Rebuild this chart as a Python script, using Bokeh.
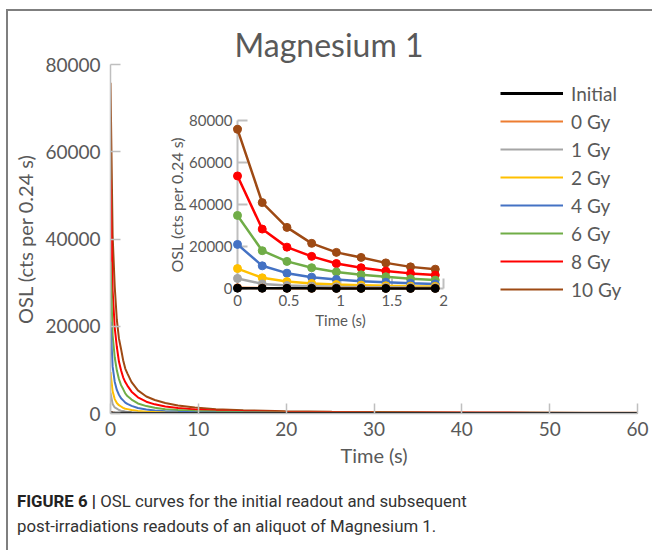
import math
from bokeh.plotting import figure
from bokeh.layouts import column
from bokeh.models import (Range1d, Legend, LegendItem, FixedTicker, BasicTickFormatter,
                          Title, Div)
from bokeh.core.properties import value
from bokeh.embed import file_html
from bokeh.resources import INLINE

# ---------------- data ----------------
title_text = "Magnesium 1"
series_names = ["Initial", "0 Gy", "1 Gy", "2 Gy", "4 Gy", "6 Gy", "8 Gy", "10 Gy"]

time_s = [0, 0.24, 0.48, 0.72, 0.96, 1.2, 1.44, 1.68, 1.92,
          2.4, 3.12, 4.08, 5.04, 6.24, 7.68, 9.6, 12.0, 15.12, 19.92,
          25.2, 30.0, 36.0, 42.0, 48.0, 54.0, 60.0]

osl_initial = [150, 90, 70, 60, 50, 45, 40, 38, 35, 30, 26, 22, 20, 18, 16, 14,
               13, 12, 11, 10, 10, 9, 9, 9, 9, 9]
osl_0gy = [350, 200, 150, 120, 100, 90, 80, 70, 65, 55, 45, 38, 32, 28, 24, 20,
           17, 15, 13, 12, 11, 10, 10, 9, 9, 9]
osl_1gy = [4800, 2200, 1400, 1100, 800, 650, 550, 450, 400, 320, 230, 170, 130,
           100, 80, 60, 48, 38, 30, 25, 22, 20, 18, 16, 15, 14]
osl_2gy = [9500, 5100, 3300, 2400, 1900, 1600, 1300, 1100, 1000, 780, 560, 410,
           320, 250, 190, 140, 110, 85, 65, 55, 45, 40, 35, 30, 28, 25]
osl_4gy = [21000, 10800, 7300, 5400, 4300, 3500, 3000, 2500, 2200, 1750, 1250,
           900, 700, 540, 420, 310, 240, 180, 140, 110, 95, 80, 70, 60, 55, 50]
osl_6gy = [34800, 18000, 12900, 9900, 7900, 6500, 5600, 4600, 4000, 3200, 2300,
           1700, 1300, 1000, 780, 570, 430, 320, 240, 190, 160, 130, 110, 100, 90, 80]
osl_8gy = [53600, 28300, 19700, 15300, 11900, 9900, 8300, 7200, 6400, 5000, 3700,
           2700, 2100, 1600, 1250, 900, 680, 500, 360, 280, 230, 190, 160, 140, 130, 120]
osl_10gy = [75800, 40900, 29100, 21500, 17200, 14800, 12200, 10300, 9200, 7200,
            5300, 3900, 3100, 2400, 1850, 1350, 1000, 750, 520, 400, 330, 280, 240,
            210, 190, 170]
series_values = [osl_initial, osl_0gy, osl_1gy, osl_2gy, osl_4gy, osl_6gy, osl_8gy, osl_10gy]

inset_points = 9          # first 9 readouts (0 - 1.92 s) shown in the inset
x_ticks = [0, 10, 20, 30, 40, 50, 60]
y_ticks = [0, 20000, 40000, 60000, 80000]
inset_x_ticks = [0, 0.5, 1, 1.5, 2]
inset_x_tick_labels = ["0", "0.5", "1", "1.5", "2"]
inset_y_ticks = [0, 20000, 40000, 60000, 80000]
inset_y_tick_labels = ["0", "20000", "40000", "60000", "80000"]
x_label = "Time (s)"
y_label = "OSL (cts per 0.24 s)"
caption_bold = "FIGURE 6 |"
caption_line1 = "OSL curves for the initial readout and subsequent"
caption_line2 = "post-irradiations readouts of an aliquot of Magnesium 1."

# ---------------- style / geometry (page pixels) ----------------
colors = ["#000000", "#ED7D31", "#A5A5A5", "#FFC000", "#4472C4", "#70AD47",
          "#FF0000", "#9E4A14"]
TXT = "#595959"
AX = "#BFBFBF"
BORDER = "#7F7F7F"
FONT = "Lato"
CAP_FONT = "Roboto"

PAGE_W, PAGE_H = 652, 550
X0, Y0 = 8, 11           # where the content starts (inside the border lines)
MAIN_BOTTOM = 480        # page y where caption area starts
FL, FR, FT, FB = 110, 637, 64, 413   # main frame edges, page pixels
IX0, IX1, IY0, IY1 = 237, 443, 288, 120   # inset 0..2 s / 0..80000, page pixels

# ---------------- main chart ----------------
p = figure(width=PAGE_W - X0, height=MAIN_BOTTOM - Y0, output_backend="svg",
           toolbar_location=None, x_range=Range1d(0, 60), y_range=Range1d(0, 80000),
           min_border_left=FL - X0, min_border_right=PAGE_W - FR,
           min_border_top=FT - Y0, min_border_bottom=MAIN_BOTTOM - FB,
           background_fill_color="white", border_fill_color="white")
p.outline_line_color = None
p.grid.visible = False

p.title = Title(text=title_text, align="left", offset=234 - FL, standoff=2,
                text_font=FONT, text_font_size="32px", text_color=TXT,
                text_font_style="normal")

for ax in (p.xaxis[0], p.yaxis[0]):
    ax.axis_line_color = AX
    ax.axis_line_width = 1.5
    ax.major_tick_line_color = AX
    ax.major_tick_line_width = 1.5
    ax.major_tick_in = 10
    ax.major_tick_out = 0
    ax.minor_tick_line_color = None
    ax.major_label_text_font = FONT
    ax.major_label_text_font_size = "19px"
    ax.major_label_text_color = TXT
    ax.axis_label_text_font = FONT
    ax.axis_label_text_font_size = "20px"
    ax.axis_label_text_color = TXT
    ax.axis_label_text_font_style = "normal"
p.xaxis.ticker = FixedTicker(ticks=x_ticks)
p.yaxis.ticker = FixedTicker(ticks=y_ticks)
p.yaxis.formatter = BasicTickFormatter(use_scientific=False)
p.xaxis.major_label_standoff = 8
p.yaxis.major_label_standoff = 10
p.xaxis.axis_label = x_label
p.yaxis.axis_label = y_label
p.xaxis.axis_label_standoff = 4
p.yaxis.axis_label_standoff = 5

main_renderers = {}
for name, vals, col in reversed(list(zip(series_names, series_values, colors))):
    lw = 3 if name == "Initial" else 2
    main_renderers[name] = p.line(time_s, vals, line_color=col, line_width=lw)

# ---------------- inset (extra ranges inside the main frame) ----------------
ixs = -(IX0 - FL) / (IX1 - IX0) * 2
ixe = 2 + (FR - IX1) / (IX1 - IX0) * 2
iys = -(FB - IY0) / (IY0 - IY1) * 80000
iye = 80000 + (IY1 - FT) / (IY0 - IY1) * 80000
p.extra_x_ranges = {"ix": Range1d(ixs, ixe)}
p.extra_y_ranges = {"iy": Range1d(iys, iye)}
kw = dict(x_range_name="ix", y_range_name="iy")

p.segment(x0=[0, 0], y0=[0, 0], x1=[0, 2], y1=[80000, 0], line_color=AX,
          line_width=2, **kw)
p.ray(x=[0] * len(inset_y_ticks), y=inset_y_ticks, length=10, angle=0,
      length_units="screen", line_color=AX, line_width=2, **kw)
p.ray(x=inset_x_ticks, y=[0] * len(inset_x_ticks), length=10, angle=math.pi / 2,
      length_units="screen", line_color=AX, line_width=2, **kw)

for name, vals, col in reversed(list(zip(series_names, series_values, colors))):
    tx = time_s[:inset_points]
    ty = vals[:inset_points]
    p.line(tx, ty, line_color=col, line_width=2.5, **kw)
    p.scatter(tx, ty, size=8, fill_color=col, line_color=col, **kw)

p.text(x=[0] * len(inset_y_ticks), y=inset_y_ticks, text=inset_y_tick_labels,
       x_offset=-5, text_align="right", text_baseline="middle",
       text_font=value(FONT), text_font_size="15px", text_color=TXT, **kw)
p.text(x=inset_x_ticks, y=[0] * len(inset_x_ticks), text=inset_x_tick_labels,
       y_offset=6, text_align="center", text_baseline="top",
       text_font=value(FONT), text_font_size="15px", text_color=TXT, **kw)
p.text(x=[1], y=[0], text=[x_label], y_offset=22, text_align="center",
       text_baseline="top", text_font=value(FONT), text_font_size="15px",
       text_color=TXT, **kw)
p.text(x=[0], y=[40000], text=[y_label], x_offset=-52, angle=math.pi / 2,
       text_align="center", text_baseline="bottom", text_font=value(FONT),
       text_font_size="16px", text_color=TXT, **kw)

# ---------------- legend ----------------
legend = Legend(items=[LegendItem(label=n, renderers=[main_renderers[n]])
                       for n in series_names],
                location=(500 - FL, FB - 303), orientation="vertical",
                glyph_width=63, glyph_height=28, label_height=28, spacing=0,
                padding=0, margin=0, label_standoff=8,
                label_text_font=FONT, label_text_font_size="19px",
                label_text_color=TXT, border_line_color=None,
                background_fill_alpha=0)
p.add_layout(legend)

# ---------------- caption ----------------
caption_html = (
    f'<div style="font-family: Roboto, sans-serif; font-size: 16.8px; color: #333333; '
    f'line-height: 25px; padding-left: 4px; padding-top: 4px; white-space: nowrap;">'
    f'<b style="color: #222222;">{caption_bold}</b> {caption_line1}<br>{caption_line2}</div>'
)
cap = Div(text=caption_html, width=PAGE_W - X0, height=PAGE_H - MAIN_BOTTOM)

layout = column(p, cap, spacing=0,
                styles={"margin-left": "6px", "margin-top": "9px",
                        "border-left": f"2px solid {BORDER}",
                        "border-top": f"2px solid {BORDER}"})
open("out.html", "w").write(file_html(layout, INLINE))
